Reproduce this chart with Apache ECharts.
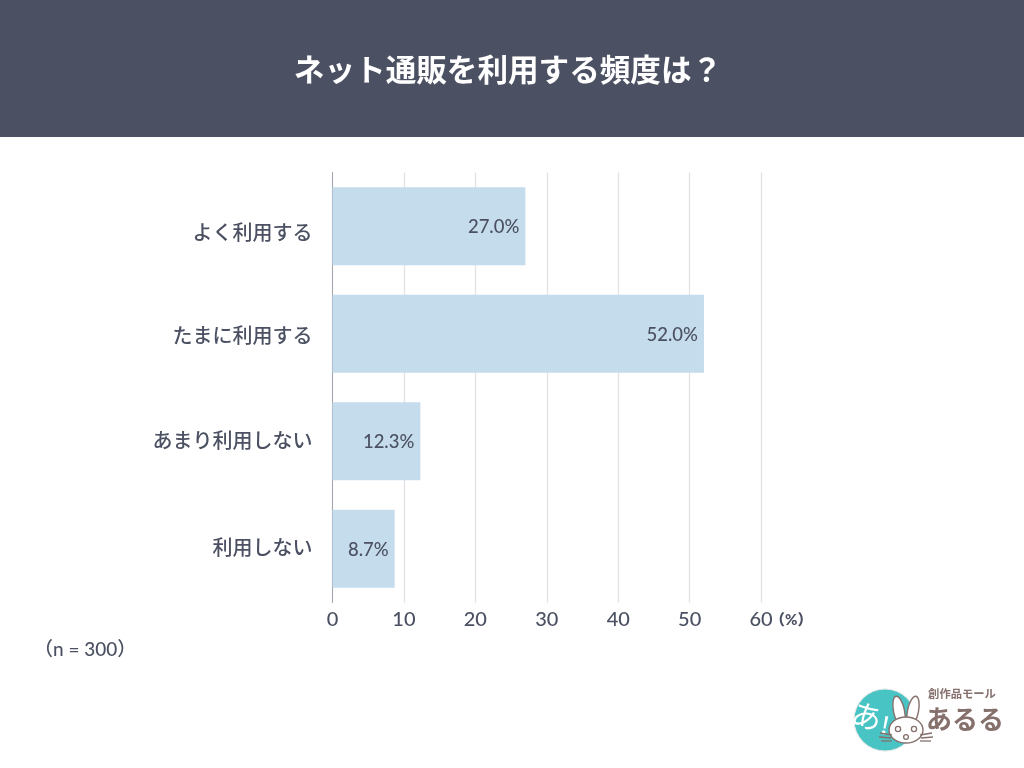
<!DOCTYPE html>
<html><head><meta charset="utf-8">
<style>html,body{margin:0;padding:0;background:#fff}#c{width:1024px;height:768px}</style>
<script src="https://cdn.jsdelivr.net/npm/echarts@6/dist/echarts.min.js"></script>
</head><body><div id="c"></div>
<script>
const categories = ['よく利用する','たまに利用する','あまり利用しない','利用しない'];
const values = [27.0,52.0,12.3,8.7];
const titleText = 'ネット通販を利用する頻度は？';
const noteText = '（n = 300）';
const unitText = '（%）';
const INK = '#4b5162';
const FONT = '"Noto Sans CJK JP","Noto Sans",sans-serif';
const NUM = 'Lato,"Noto Sans CJK JP",sans-serif';
const BROWN = '#85706c';
const chart = echarts.init(document.getElementById('c'), null, {renderer:'canvas'});
const labelBase = {color:INK,fontFamily:FONT,fontSize:20,fontWeight:500};
chart.setOption({
  animation:false,
  backgroundColor:'#fff',
  grid:{left:332.5,top:172.5,width:428.6,height:430,containLabel:false},
  xAxis:{type:'value',min:0,max:60,interval:10,
    axisLine:{show:false},axisTick:{show:false},
    axisLabel:{color:INK,fontFamily:NUM,fontSize:20,fontWeight:500,margin:7},
    splitLine:{show:true,lineStyle:{color:'#e2e2e4',width:1.3}}},
  yAxis:{type:'category',inverse:true,data:categories,
    axisLine:{show:true,lineStyle:{color:'#a3a6ae',width:1}},axisTick:{show:false},
    axisLabel:{margin:20,...labelBase,
      formatter:(v,i)=>'{l'+i+'|'+v+'}',
      rich:{
        l0:{...labelBase,padding:[12,0,0,0]},
        l1:{...labelBase,padding:[4,0,0,0]},
        l2:{...labelBase,padding:[0,0,2,0]},
        l3:{...labelBase,padding:[0,0,2,0]}
      }}},
  series:[{type:'bar',data:values,barWidth:78,z:3,
    itemStyle:{color:'#c5dcec'},
    label:{show:true,position:'insideRight',distance:6,offset:[0,1],color:INK,fontFamily:NUM,fontSize:18.5,fontWeight:500,
      formatter:p=>p.value.toFixed(1)+'%'}}],
  graphic:[
    {type:'rect',z:10,shape:{x:0,y:0,width:1024,height:137},style:{fill:'#4b5162'}},
    {type:'text',z:11,x:508,y:69,style:{text:titleText,fill:'#fff',font:'700 30.6px '+FONT,textAlign:'center',textVerticalAlign:'middle'}},
    {type:'text',z:11,x:770,y:620,style:{text:unitText,fill:INK,font:'900 15px '+NUM,textAlign:'left',textVerticalAlign:'middle'}},
    {type:'text',z:11,x:34,y:650,style:{text:noteText,fill:INK,font:'500 19px '+NUM+','+FONT,textAlign:'left',textVerticalAlign:'middle'}},
    // logo
    {type:'circle',z:11,shape:{cx:885,cy:720,r:31},style:{fill:'#48c4c4',stroke:'#e8e8e8',lineWidth:1}},
    {type:'text',z:12,x:867,y:716,rotation:-0.3,style:{text:'あ',fill:'#fff',font:'400 30px '+FONT,textAlign:'center',textVerticalAlign:'middle'}},
    {type:'text',z:12,x:885,y:725,rotation:-0.2,style:{text:'!',fill:'#fff',font:'500 24px '+FONT,textAlign:'center',textVerticalAlign:'middle'}},
    {type:'ellipse',z:12,shape:{cx:899,cy:711,rx:5.5,ry:15},rotation:0.2,originX:899,originY:711,style:{fill:'#fff',stroke:BROWN,lineWidth:1.4}},
    {type:'ellipse',z:12,shape:{cx:913,cy:711,rx:5.5,ry:15},rotation:-0.2,originX:913,originY:711,style:{fill:'#fff',stroke:BROWN,lineWidth:1.4}},
    {type:'ellipse',z:13,shape:{cx:906,cy:730,rx:17,ry:13},style:{fill:'#fff',stroke:BROWN,lineWidth:1.4}},
    {type:'circle',z:14,shape:{cx:898,cy:729,r:2.6},style:{fill:'#fff',stroke:BROWN,lineWidth:1.3}},
    {type:'circle',z:14,shape:{cx:914,cy:729,r:2.6},style:{fill:'#fff',stroke:BROWN,lineWidth:1.3}},
    {type:'circle',z:14,shape:{cx:906,cy:737,r:2.4},style:{fill:'#fff',stroke:BROWN,lineWidth:1.3}},
    {type:'line',z:14,shape:{x1:880,y1:733,x2:892,y2:735},style:{stroke:BROWN,lineWidth:1.3}},
    {type:'line',z:14,shape:{x1:879,y1:737,x2:891,y2:738},style:{stroke:BROWN,lineWidth:1.3}},
    {type:'line',z:14,shape:{x1:881,y1:741,x2:892,y2:741},style:{stroke:BROWN,lineWidth:1.3}},
    {type:'line',z:14,shape:{x1:920,y1:735,x2:932,y2:733},style:{stroke:BROWN,lineWidth:1.3}},
    {type:'line',z:14,shape:{x1:921,y1:738,x2:933,y2:737},style:{stroke:BROWN,lineWidth:1.3}},
    {type:'line',z:14,shape:{x1:920,y1:741,x2:931,y2:741},style:{stroke:BROWN,lineWidth:1.3}},
    {type:'text',z:12,x:962,y:694,style:{text:'創作品モール',fill:BROWN,font:'700 11.3px '+FONT,textAlign:'center',textVerticalAlign:'middle'}},
    {type:'text',z:12,x:965,y:719,style:{text:'あるる',fill:BROWN,font:'700 26px '+FONT,textAlign:'center',textVerticalAlign:'middle'}}
  ]
});
</script></body></html>
